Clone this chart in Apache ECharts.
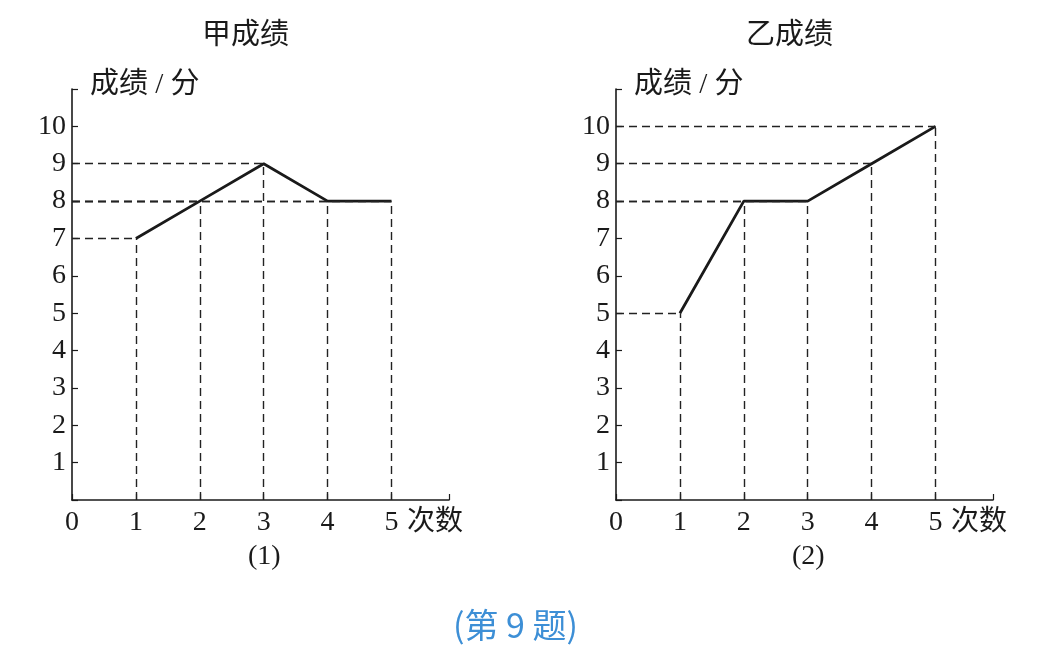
<!DOCTYPE html>
<html>
<head>
<meta charset="utf-8">
<script src="https://cdn.jsdelivr.net/npm/echarts@6/dist/echarts.min.js"></script>
<style>
  html, body { margin: 0; padding: 0; background: #fff; }
  #chart_block { width: 1044px; height: 658px; }
</style>
</head>
<body>
<div id="chart_block"></div>
<script>
// 次数 and the two students' scores
var times = [1, 2, 3, 4, 5];
var jia_scores = [7, 8, 9, 8, 8];
var yi_scores = [5, 8, 8, 9, 10];
var chart_titles = ['甲成绩', '乙成绩'];
var sub_titles = ['(1)', '(2)'];
var caption = '(第 9 题)';
var y_name = '成绩 / 分';
var x_name = '次数';

var serif = "'Liberation Serif', 'Noto Sans CJK SC', serif";
var ink = '#1a1a1a';

function points(ys) {
    return times.map(function (t, i) { return [t, ys[i]]; });
}

// dashed guides from each point back to both axes
function guides(ys) {
    var lines = [];
    times.forEach(function (t, i) {
        lines.push([{coord: [0, ys[i]]}, {coord: [t, ys[i]]}]);
        lines.push([{coord: [t, 0]}, {coord: [t, ys[i]]}]);
    });
    return lines;
}

function x_axis(idx) {
    return {
        type: 'value', gridIndex: idx, min: 0, max: 5.9, interval: 1,
        name: x_name, nameLocation: 'end', nameGap: -42,
        nameTextStyle: {fontFamily: serif, fontSize: 28, color: ink, verticalAlign: 'top', padding: [9, 0, 0, 0]},
        axisLine: {lineStyle: {color: ink, width: 1.6}},
        axisTick: {show: true, inside: true, length: 6, lineStyle: {color: ink, width: 1.2}},
        axisLabel: {
            fontFamily: serif, fontSize: 28, color: ink, margin: 9,
            formatter: function (v) { return Number.isInteger(v) ? String(v) : ''; }
        },
        splitLine: {show: false}
    };
}

function y_axis(idx) {
    return {
        type: 'value', gridIndex: idx, min: 0, max: 11, interval: 1,
        name: y_name, nameLocation: 'end', nameGap: 4,
        nameTextStyle: {fontFamily: serif, fontSize: 29, color: ink, align: 'left', verticalAlign: 'middle', padding: [0, 0, 0, 18]},
        axisLine: {show: true, lineStyle: {color: ink, width: 1.6}},
        axisTick: {show: true, inside: true, length: 6, lineStyle: {color: ink, width: 1.2}},
        axisLabel: {
            fontFamily: serif, fontSize: 28, color: ink, margin: 6,
            formatter: function (v) { return (v >= 1 && v <= 10) ? String(v) : ''; }
        },
        splitLine: {show: false}
    };
}

function line_series(idx, ys) {
    return {
        type: 'line', xAxisIndex: idx, yAxisIndex: idx,
        data: points(ys),
        symbol: 'none',
        lineStyle: {color: ink, width: 2.8},
        silent: true,
        markLine: {
            silent: true, symbol: 'none',
            label: {show: false},
            lineStyle: {color: '#222', width: 1.4, type: [8, 5]},
            data: guides(ys)
        }
    };
}

var option = {
    animation: false,
    backgroundColor: '#fff',
    title: [
        {text: chart_titles[0], left: 202, top: 18, padding: 0,
            textStyle: {fontFamily: 'Noto Sans CJK SC', fontSize: 29, fontWeight: 'normal', color: ink}},
        {text: chart_titles[1], left: 746, top: 18, padding: 0,
            textStyle: {fontFamily: 'Noto Sans CJK SC', fontSize: 29, fontWeight: 'normal', color: ink}},
        {text: sub_titles[0], left: 248, top: 543, padding: 0,
            textStyle: {fontFamily: serif, fontSize: 28, fontWeight: 'normal', color: ink}},
        {text: sub_titles[1], left: 792, top: 543, padding: 0,
            textStyle: {fontFamily: serif, fontSize: 28, fontWeight: 'normal', color: ink}},
        {text: caption, left: 453, top: 608, padding: 0,
            textStyle: {fontFamily: 'Noto Sans CJK SC', fontSize: 34, fontWeight: 'normal', color: '#3d8fd6'}}
    ],
    grid: [
        {left: 72, top: 89, width: 377, height: 411},
        {left: 616, top: 89, width: 377, height: 411}
    ],
    xAxis: [x_axis(0), x_axis(1)],
    yAxis: [y_axis(0), y_axis(1)],
    series: [line_series(0, jia_scores), line_series(1, yi_scores)]
};

var chart = echarts.init(document.getElementById('chart_block'));
chart.setOption(option);
</script>
</body>
</html>
